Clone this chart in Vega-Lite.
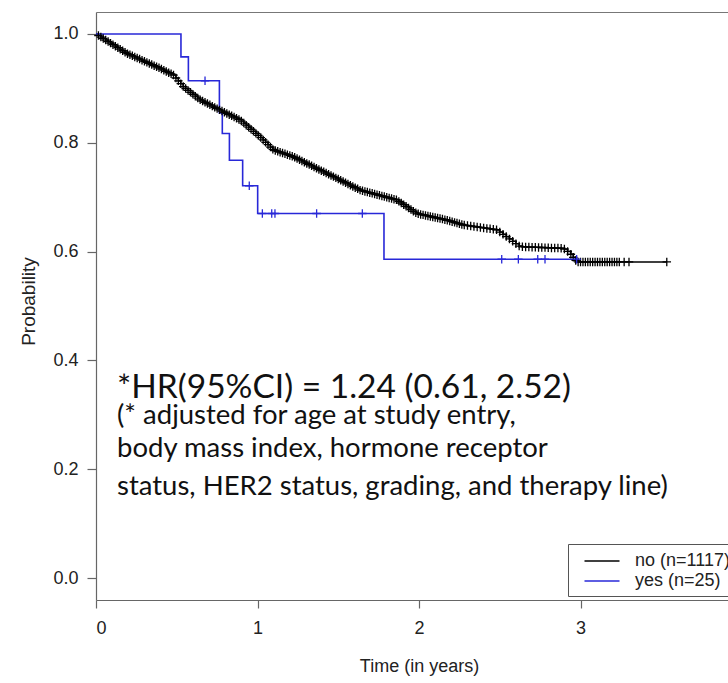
{
  "$schema": "https://vega.github.io/schema/vega-lite/v6.json",
  "width": 632,
  "height": 588,
  "autosize": {"type": "none"},
  "padding": {"left": 96, "top": 12, "right": 0, "bottom": 83},
  "background": "white",
  "config": {
    "view": {"stroke": null},
    "axis": {"labelFont": "Liberation Sans", "titleFont": "Liberation Sans", "labelFontSize": 18, "titleFontSize": 18, "titleFontWeight": "normal", "labelColor": "#222", "titleColor": "#222", "domainColor": "#666", "tickColor": "#666", "grid": false, "domainWidth": 1.2, "tickWidth": 1.2}
  },
  "datasets": {
    "km": [
      {"time": 0.0, "surv": 1.0, "group": "no (n=1117)", "cens": false},
      {"time": 0.015, "surv": 0.9972, "group": "no (n=1117)", "cens": true},
      {"time": 0.03, "surv": 0.9944, "group": "no (n=1117)", "cens": true},
      {"time": 0.045, "surv": 0.9916, "group": "no (n=1117)", "cens": true},
      {"time": 0.06, "surv": 0.9888, "group": "no (n=1117)", "cens": true},
      {"time": 0.075, "surv": 0.986, "group": "no (n=1117)", "cens": true},
      {"time": 0.09, "surv": 0.9832, "group": "no (n=1117)", "cens": true},
      {"time": 0.105, "surv": 0.9804, "group": "no (n=1117)", "cens": true},
      {"time": 0.12, "surv": 0.9776, "group": "no (n=1117)", "cens": true},
      {"time": 0.135, "surv": 0.9748, "group": "no (n=1117)", "cens": true},
      {"time": 0.15, "surv": 0.972, "group": "no (n=1117)", "cens": true},
      {"time": 0.165, "surv": 0.9692, "group": "no (n=1117)", "cens": true},
      {"time": 0.18, "surv": 0.9664, "group": "no (n=1117)", "cens": true},
      {"time": 0.195, "surv": 0.9638, "group": "no (n=1117)", "cens": true},
      {"time": 0.21, "surv": 0.9618, "group": "no (n=1117)", "cens": true},
      {"time": 0.225, "surv": 0.9598, "group": "no (n=1117)", "cens": true},
      {"time": 0.24, "surv": 0.9578, "group": "no (n=1117)", "cens": true},
      {"time": 0.255, "surv": 0.9558, "group": "no (n=1117)", "cens": true},
      {"time": 0.27, "surv": 0.9538, "group": "no (n=1117)", "cens": true},
      {"time": 0.285, "surv": 0.9518, "group": "no (n=1117)", "cens": true},
      {"time": 0.3, "surv": 0.9498, "group": "no (n=1117)", "cens": true},
      {"time": 0.315, "surv": 0.9478, "group": "no (n=1117)", "cens": true},
      {"time": 0.33, "surv": 0.9458, "group": "no (n=1117)", "cens": true},
      {"time": 0.345, "surv": 0.9438, "group": "no (n=1117)", "cens": true},
      {"time": 0.36, "surv": 0.9418, "group": "no (n=1117)", "cens": true},
      {"time": 0.375, "surv": 0.9398, "group": "no (n=1117)", "cens": true},
      {"time": 0.39, "surv": 0.9378, "group": "no (n=1117)", "cens": true},
      {"time": 0.405, "surv": 0.9356, "group": "no (n=1117)", "cens": true},
      {"time": 0.42, "surv": 0.9334, "group": "no (n=1117)", "cens": true},
      {"time": 0.435, "surv": 0.9311, "group": "no (n=1117)", "cens": true},
      {"time": 0.45, "surv": 0.9289, "group": "no (n=1117)", "cens": true},
      {"time": 0.465, "surv": 0.9267, "group": "no (n=1117)", "cens": true},
      {"time": 0.48, "surv": 0.9245, "group": "no (n=1117)", "cens": true},
      {"time": 0.495, "surv": 0.9191, "group": "no (n=1117)", "cens": true},
      {"time": 0.51, "surv": 0.9138, "group": "no (n=1117)", "cens": true},
      {"time": 0.525, "surv": 0.9086, "group": "no (n=1117)", "cens": true},
      {"time": 0.54, "surv": 0.9034, "group": "no (n=1117)", "cens": true},
      {"time": 0.555, "surv": 0.8998, "group": "no (n=1117)", "cens": true},
      {"time": 0.57, "surv": 0.8962, "group": "no (n=1117)", "cens": true},
      {"time": 0.585, "surv": 0.8927, "group": "no (n=1117)", "cens": true},
      {"time": 0.6, "surv": 0.8892, "group": "no (n=1117)", "cens": true},
      {"time": 0.615, "surv": 0.8857, "group": "no (n=1117)", "cens": true},
      {"time": 0.63, "surv": 0.8822, "group": "no (n=1117)", "cens": true},
      {"time": 0.645, "surv": 0.8789, "group": "no (n=1117)", "cens": true},
      {"time": 0.66, "surv": 0.8766, "group": "no (n=1117)", "cens": true},
      {"time": 0.675, "surv": 0.8743, "group": "no (n=1117)", "cens": true},
      {"time": 0.69, "surv": 0.872, "group": "no (n=1117)", "cens": true},
      {"time": 0.705, "surv": 0.8697, "group": "no (n=1117)", "cens": true},
      {"time": 0.72, "surv": 0.8674, "group": "no (n=1117)", "cens": true},
      {"time": 0.735, "surv": 0.8651, "group": "no (n=1117)", "cens": true},
      {"time": 0.75, "surv": 0.8628, "group": "no (n=1117)", "cens": true},
      {"time": 0.765, "surv": 0.8605, "group": "no (n=1117)", "cens": true},
      {"time": 0.78, "surv": 0.8583, "group": "no (n=1117)", "cens": true},
      {"time": 0.795, "surv": 0.8561, "group": "no (n=1117)", "cens": true},
      {"time": 0.81, "surv": 0.8539, "group": "no (n=1117)", "cens": true},
      {"time": 0.825, "surv": 0.8517, "group": "no (n=1117)", "cens": true},
      {"time": 0.84, "surv": 0.8496, "group": "no (n=1117)", "cens": true},
      {"time": 0.855, "surv": 0.8474, "group": "no (n=1117)", "cens": true},
      {"time": 0.87, "surv": 0.8452, "group": "no (n=1117)", "cens": true},
      {"time": 0.885, "surv": 0.843, "group": "no (n=1117)", "cens": true},
      {"time": 0.9, "surv": 0.84, "group": "no (n=1117)", "cens": true},
      {"time": 0.915, "surv": 0.8362, "group": "no (n=1117)", "cens": true},
      {"time": 0.93, "surv": 0.8324, "group": "no (n=1117)", "cens": true},
      {"time": 0.945, "surv": 0.8287, "group": "no (n=1117)", "cens": true},
      {"time": 0.96, "surv": 0.8249, "group": "no (n=1117)", "cens": true},
      {"time": 0.975, "surv": 0.8211, "group": "no (n=1117)", "cens": true},
      {"time": 0.99, "surv": 0.8173, "group": "no (n=1117)", "cens": true},
      {"time": 1.005, "surv": 0.8135, "group": "no (n=1117)", "cens": true},
      {"time": 1.02, "surv": 0.8096, "group": "no (n=1117)", "cens": true},
      {"time": 1.035, "surv": 0.8052, "group": "no (n=1117)", "cens": true},
      {"time": 1.05, "surv": 0.8009, "group": "no (n=1117)", "cens": true},
      {"time": 1.065, "surv": 0.7965, "group": "no (n=1117)", "cens": true},
      {"time": 1.08, "surv": 0.7922, "group": "no (n=1117)", "cens": true},
      {"time": 1.095, "surv": 0.7879, "group": "no (n=1117)", "cens": true},
      {"time": 1.11, "surv": 0.7858, "group": "no (n=1117)", "cens": true},
      {"time": 1.125, "surv": 0.7843, "group": "no (n=1117)", "cens": true},
      {"time": 1.14, "surv": 0.7828, "group": "no (n=1117)", "cens": true},
      {"time": 1.155, "surv": 0.7812, "group": "no (n=1117)", "cens": true},
      {"time": 1.17, "surv": 0.7797, "group": "no (n=1117)", "cens": true},
      {"time": 1.185, "surv": 0.7782, "group": "no (n=1117)", "cens": true},
      {"time": 1.2, "surv": 0.7767, "group": "no (n=1117)", "cens": true},
      {"time": 1.215, "surv": 0.7752, "group": "no (n=1117)", "cens": true},
      {"time": 1.23, "surv": 0.7733, "group": "no (n=1117)", "cens": true},
      {"time": 1.245, "surv": 0.7711, "group": "no (n=1117)", "cens": true},
      {"time": 1.26, "surv": 0.7688, "group": "no (n=1117)", "cens": true},
      {"time": 1.275, "surv": 0.7666, "group": "no (n=1117)", "cens": true},
      {"time": 1.29, "surv": 0.7644, "group": "no (n=1117)", "cens": true},
      {"time": 1.305, "surv": 0.7621, "group": "no (n=1117)", "cens": true},
      {"time": 1.32, "surv": 0.7599, "group": "no (n=1117)", "cens": true},
      {"time": 1.335, "surv": 0.7576, "group": "no (n=1117)", "cens": true},
      {"time": 1.35, "surv": 0.7554, "group": "no (n=1117)", "cens": true},
      {"time": 1.365, "surv": 0.7532, "group": "no (n=1117)", "cens": true},
      {"time": 1.38, "surv": 0.751, "group": "no (n=1117)", "cens": true},
      {"time": 1.395, "surv": 0.7488, "group": "no (n=1117)", "cens": true},
      {"time": 1.41, "surv": 0.7466, "group": "no (n=1117)", "cens": true},
      {"time": 1.425, "surv": 0.7444, "group": "no (n=1117)", "cens": true},
      {"time": 1.44, "surv": 0.7422, "group": "no (n=1117)", "cens": true},
      {"time": 1.455, "surv": 0.74, "group": "no (n=1117)", "cens": true},
      {"time": 1.47, "surv": 0.7378, "group": "no (n=1117)", "cens": true},
      {"time": 1.485, "surv": 0.7355, "group": "no (n=1117)", "cens": true},
      {"time": 1.5, "surv": 0.7333, "group": "no (n=1117)", "cens": true},
      {"time": 1.515, "surv": 0.731, "group": "no (n=1117)", "cens": true},
      {"time": 1.53, "surv": 0.7288, "group": "no (n=1117)", "cens": true},
      {"time": 1.545, "surv": 0.7265, "group": "no (n=1117)", "cens": true},
      {"time": 1.56, "surv": 0.7243, "group": "no (n=1117)", "cens": true},
      {"time": 1.575, "surv": 0.722, "group": "no (n=1117)", "cens": true},
      {"time": 1.59, "surv": 0.7198, "group": "no (n=1117)", "cens": true},
      {"time": 1.605, "surv": 0.7175, "group": "no (n=1117)", "cens": true},
      {"time": 1.62, "surv": 0.7153, "group": "no (n=1117)", "cens": true},
      {"time": 1.635, "surv": 0.713, "group": "no (n=1117)", "cens": true},
      {"time": 1.65, "surv": 0.7118, "group": "no (n=1117)", "cens": true},
      {"time": 1.665, "surv": 0.7106, "group": "no (n=1117)", "cens": true},
      {"time": 1.68, "surv": 0.7094, "group": "no (n=1117)", "cens": true},
      {"time": 1.695, "surv": 0.7083, "group": "no (n=1117)", "cens": true},
      {"time": 1.71, "surv": 0.7071, "group": "no (n=1117)", "cens": true},
      {"time": 1.725, "surv": 0.7059, "group": "no (n=1117)", "cens": true},
      {"time": 1.74, "surv": 0.7047, "group": "no (n=1117)", "cens": true},
      {"time": 1.755, "surv": 0.7035, "group": "no (n=1117)", "cens": true},
      {"time": 1.77, "surv": 0.7023, "group": "no (n=1117)", "cens": true},
      {"time": 1.785, "surv": 0.7011, "group": "no (n=1117)", "cens": true},
      {"time": 1.8, "surv": 0.6999, "group": "no (n=1117)", "cens": true},
      {"time": 1.815, "surv": 0.6987, "group": "no (n=1117)", "cens": true},
      {"time": 1.83, "surv": 0.6975, "group": "no (n=1117)", "cens": true},
      {"time": 1.845, "surv": 0.6963, "group": "no (n=1117)", "cens": true},
      {"time": 1.86, "surv": 0.6952, "group": "no (n=1117)", "cens": true},
      {"time": 1.875, "surv": 0.6923, "group": "no (n=1117)", "cens": true},
      {"time": 1.89, "surv": 0.6893, "group": "no (n=1117)", "cens": true},
      {"time": 1.905, "surv": 0.6863, "group": "no (n=1117)", "cens": true},
      {"time": 1.92, "surv": 0.6833, "group": "no (n=1117)", "cens": true},
      {"time": 1.935, "surv": 0.6803, "group": "no (n=1117)", "cens": true},
      {"time": 1.95, "surv": 0.6773, "group": "no (n=1117)", "cens": true},
      {"time": 1.965, "surv": 0.6742, "group": "no (n=1117)", "cens": true},
      {"time": 1.98, "surv": 0.6712, "group": "no (n=1117)", "cens": true},
      {"time": 1.995, "surv": 0.6694, "group": "no (n=1117)", "cens": true},
      {"time": 2.01, "surv": 0.6684, "group": "no (n=1117)", "cens": true},
      {"time": 2.025, "surv": 0.6675, "group": "no (n=1117)", "cens": true},
      {"time": 2.04, "surv": 0.6665, "group": "no (n=1117)", "cens": true},
      {"time": 2.055, "surv": 0.6655, "group": "no (n=1117)", "cens": true},
      {"time": 2.07, "surv": 0.6645, "group": "no (n=1117)", "cens": true},
      {"time": 2.085, "surv": 0.6636, "group": "no (n=1117)", "cens": true},
      {"time": 2.1, "surv": 0.6626, "group": "no (n=1117)", "cens": true},
      {"time": 2.115, "surv": 0.6616, "group": "no (n=1117)", "cens": true},
      {"time": 2.13, "surv": 0.6607, "group": "no (n=1117)", "cens": true},
      {"time": 2.145, "surv": 0.6597, "group": "no (n=1117)", "cens": true},
      {"time": 2.16, "surv": 0.6587, "group": "no (n=1117)", "cens": true},
      {"time": 2.175, "surv": 0.6576, "group": "no (n=1117)", "cens": true},
      {"time": 2.19, "surv": 0.6563, "group": "no (n=1117)", "cens": true},
      {"time": 2.205, "surv": 0.655, "group": "no (n=1117)", "cens": true},
      {"time": 2.22, "surv": 0.6537, "group": "no (n=1117)", "cens": true},
      {"time": 2.235, "surv": 0.6524, "group": "no (n=1117)", "cens": true},
      {"time": 2.25, "surv": 0.6511, "group": "no (n=1117)", "cens": true},
      {"time": 2.265, "surv": 0.6498, "group": "no (n=1117)", "cens": true},
      {"time": 2.28, "surv": 0.6487, "group": "no (n=1117)", "cens": true},
      {"time": 2.3, "surv": 0.6479, "group": "no (n=1117)", "cens": true},
      {"time": 2.32, "surv": 0.647, "group": "no (n=1117)", "cens": true},
      {"time": 2.34, "surv": 0.6461, "group": "no (n=1117)", "cens": true},
      {"time": 2.36, "surv": 0.6452, "group": "no (n=1117)", "cens": true},
      {"time": 2.38, "surv": 0.6444, "group": "no (n=1117)", "cens": true},
      {"time": 2.4, "surv": 0.6435, "group": "no (n=1117)", "cens": true},
      {"time": 2.42, "surv": 0.6426, "group": "no (n=1117)", "cens": true},
      {"time": 2.44, "surv": 0.6418, "group": "no (n=1117)", "cens": true},
      {"time": 2.46, "surv": 0.6409, "group": "no (n=1117)", "cens": true},
      {"time": 2.48, "surv": 0.64, "group": "no (n=1117)", "cens": true},
      {"time": 2.5, "surv": 0.6359, "group": "no (n=1117)", "cens": true},
      {"time": 2.52, "surv": 0.6317, "group": "no (n=1117)", "cens": true},
      {"time": 2.54, "surv": 0.6276, "group": "no (n=1117)", "cens": true},
      {"time": 2.56, "surv": 0.6233, "group": "no (n=1117)", "cens": true},
      {"time": 2.58, "surv": 0.6189, "group": "no (n=1117)", "cens": true},
      {"time": 2.6, "surv": 0.6145, "group": "no (n=1117)", "cens": true},
      {"time": 2.62, "surv": 0.6101, "group": "no (n=1117)", "cens": true},
      {"time": 2.64, "surv": 0.6088, "group": "no (n=1117)", "cens": true},
      {"time": 2.66, "surv": 0.6086, "group": "no (n=1117)", "cens": true},
      {"time": 2.68, "surv": 0.6084, "group": "no (n=1117)", "cens": true},
      {"time": 2.7, "surv": 0.6082, "group": "no (n=1117)", "cens": true},
      {"time": 2.72, "surv": 0.6079, "group": "no (n=1117)", "cens": true},
      {"time": 2.74, "surv": 0.6077, "group": "no (n=1117)", "cens": true},
      {"time": 2.76, "surv": 0.6075, "group": "no (n=1117)", "cens": true},
      {"time": 2.78, "surv": 0.6073, "group": "no (n=1117)", "cens": true},
      {"time": 2.8, "surv": 0.6071, "group": "no (n=1117)", "cens": true},
      {"time": 2.82, "surv": 0.6068, "group": "no (n=1117)", "cens": true},
      {"time": 2.84, "surv": 0.6066, "group": "no (n=1117)", "cens": true},
      {"time": 2.86, "surv": 0.6064, "group": "no (n=1117)", "cens": true},
      {"time": 2.88, "surv": 0.6062, "group": "no (n=1117)", "cens": true},
      {"time": 2.9, "surv": 0.6047, "group": "no (n=1117)", "cens": true},
      {"time": 2.92, "surv": 0.6003, "group": "no (n=1117)", "cens": true},
      {"time": 2.94, "surv": 0.5951, "group": "no (n=1117)", "cens": true},
      {"time": 2.955, "surv": 0.5895, "group": "no (n=1117)", "cens": true},
      {"time": 2.97, "surv": 0.5838, "group": "no (n=1117)", "cens": true},
      {"time": 2.985, "surv": 0.581, "group": "no (n=1117)", "cens": true},
      {"time": 3.0, "surv": 0.581, "group": "no (n=1117)", "cens": true},
      {"time": 3.015, "surv": 0.581, "group": "no (n=1117)", "cens": true},
      {"time": 3.03, "surv": 0.581, "group": "no (n=1117)", "cens": true},
      {"time": 3.045, "surv": 0.581, "group": "no (n=1117)", "cens": true},
      {"time": 3.06, "surv": 0.581, "group": "no (n=1117)", "cens": true},
      {"time": 3.075, "surv": 0.581, "group": "no (n=1117)", "cens": true},
      {"time": 3.09, "surv": 0.581, "group": "no (n=1117)", "cens": true},
      {"time": 3.105, "surv": 0.581, "group": "no (n=1117)", "cens": true},
      {"time": 3.12, "surv": 0.581, "group": "no (n=1117)", "cens": true},
      {"time": 3.135, "surv": 0.581, "group": "no (n=1117)", "cens": true},
      {"time": 3.15, "surv": 0.581, "group": "no (n=1117)", "cens": true},
      {"time": 3.165, "surv": 0.581, "group": "no (n=1117)", "cens": true},
      {"time": 3.18, "surv": 0.581, "group": "no (n=1117)", "cens": true},
      {"time": 3.195, "surv": 0.581, "group": "no (n=1117)", "cens": true},
      {"time": 3.21, "surv": 0.581, "group": "no (n=1117)", "cens": true},
      {"time": 3.225, "surv": 0.581, "group": "no (n=1117)", "cens": true},
      {"time": 3.24, "surv": 0.581, "group": "no (n=1117)", "cens": true},
      {"time": 3.27, "surv": 0.581, "group": "no (n=1117)", "cens": true},
      {"time": 3.3, "surv": 0.581, "group": "no (n=1117)", "cens": true},
      {"time": 3.534, "surv": 0.581, "group": "no (n=1117)", "cens": true},
      {"time": 0.0, "surv": 1.0, "group": "yes (n=25)", "cens": false},
      {"time": 0.526, "surv": 0.958, "group": "yes (n=25)", "cens": false},
      {"time": 0.572, "surv": 0.914, "group": "yes (n=25)", "cens": false},
      {"time": 0.675, "surv": 0.914, "group": "yes (n=25)", "cens": true},
      {"time": 0.764, "surv": 0.855, "group": "yes (n=25)", "cens": false},
      {"time": 0.782, "surv": 0.817, "group": "yes (n=25)", "cens": false},
      {"time": 0.826, "surv": 0.768, "group": "yes (n=25)", "cens": false},
      {"time": 0.908, "surv": 0.721, "group": "yes (n=25)", "cens": false},
      {"time": 0.949, "surv": 0.721, "group": "yes (n=25)", "cens": true},
      {"time": 1.001, "surv": 0.67, "group": "yes (n=25)", "cens": false},
      {"time": 1.03, "surv": 0.67, "group": "yes (n=25)", "cens": true},
      {"time": 1.088, "surv": 0.67, "group": "yes (n=25)", "cens": true},
      {"time": 1.108, "surv": 0.67, "group": "yes (n=25)", "cens": true},
      {"time": 1.366, "surv": 0.67, "group": "yes (n=25)", "cens": true},
      {"time": 1.649, "surv": 0.67, "group": "yes (n=25)", "cens": true},
      {"time": 1.783, "surv": 0.586, "group": "yes (n=25)", "cens": false},
      {"time": 2.512, "surv": 0.586, "group": "yes (n=25)", "cens": true},
      {"time": 2.615, "surv": 0.586, "group": "yes (n=25)", "cens": true},
      {"time": 2.735, "surv": 0.586, "group": "yes (n=25)", "cens": true},
      {"time": 2.78, "surv": 0.586, "group": "yes (n=25)", "cens": true},
      {"time": 2.976, "surv": 0.586, "group": "yes (n=25)", "cens": true}
    ],
    "hr": [
      {"t": 0.13, "s": 0.3318, "label": "*HR(95%CI) = 1.24 (0.61, 2.52)"}
    ],
    "note": [
      {"t": 0.13, "s": 0.2838, "label": "(* adjusted for age at study entry,"},
      {"t": 0.13, "s": 0.2224, "label": "body mass index, hormone receptor"},
      {"t": 0.13, "s": 0.1526, "label": "status, HER2 status, grading, and therapy line)"}
    ]
  },
  "layer": [
    {
      "data": {"name": "km"},
      "mark": {"type": "line", "interpolate": "step-after", "strokeWidth": 1.6},
      "encoding": {
        "x": {"field": "time", "type": "quantitative", "scale": {"domain": [0, 3.913], "nice": false, "zero": false},
          "axis": {"values": [0, 1, 2, 3], "format": "d", "title": "Time (in years)", "tickSize": 8, "labelPadding": 11, "titlePadding": 20, "titleX": 323}},
        "y": {"field": "surv", "type": "quantitative", "scale": {"domain": [-0.0404, 1.0404], "nice": false, "zero": false},
          "axis": {"values": [0, 0.2, 0.4, 0.6, 0.8, 1.0], "format": ".1f", "title": "Probability", "titleFontSize": 19, "tickSize": 9, "labelPadding": 9, "titlePadding": 14, "titleY": 289}},
        "color": {"field": "group", "type": "nominal",
          "scale": {"domain": ["no (n=1117)", "yes (n=25)"], "range": ["#000000", "#2828d8"]},
          "legend": {"title": null, "orient": "none", "legendX": 472, "legendY": 532, "strokeColor": "#555", "padding": 6, "symbolType": "M-1.75,0H1.75", "symbolSize": 400, "symbolStrokeWidth": 1.6, "symbolOffset": 17, "labelOffset": 22, "rowPadding": -2, "labelFont": "Liberation Sans", "labelFontSize": 18, "labelColor": "#222", "labelLimit": 300, "fillColor": "white"}}
      }
    },
    {
      "data": {"name": "km"},
      "transform": [{"filter": "datum.cens"}],
      "mark": {"type": "point", "shape": "M-1,0H1M0,-1V1", "filled": false, "size": 72, "strokeWidth": 1.3, "opacity": 1},
      "encoding": {
        "x": {"field": "time", "type": "quantitative", "axis": {"orient": "top", "labels": false, "ticks": false, "title": null, "domainColor": "#777"}},
        "y": {"field": "surv", "type": "quantitative"},
        "color": {"field": "group", "type": "nominal", "legend": null}
      }
    },
    {
      "data": {"name": "hr"},
      "mark": {"type": "text", "align": "left", "baseline": "alphabetic", "font": "Lato", "fontSize": 33.5, "color": "#111"},
      "encoding": {
        "x": {"field": "t", "type": "quantitative", "axis": null},
        "y": {"field": "s", "type": "quantitative"},
        "text": {"field": "label"}
      }
    },
    {
      "data": {"name": "note"},
      "mark": {"type": "text", "align": "left", "baseline": "alphabetic", "font": "Lato", "fontSize": 27.5, "color": "#111"},
      "encoding": {
        "x": {"field": "t", "type": "quantitative", "axis": null},
        "y": {"field": "s", "type": "quantitative"},
        "text": {"field": "label"}
      }
    }
  ],
  "resolve": {"axis": {"x": "independent"}}
}
